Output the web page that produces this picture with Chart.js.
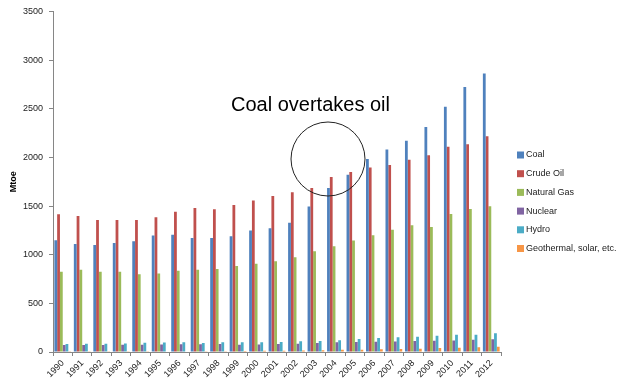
<!DOCTYPE html>
<html>
<head>
<meta charset="utf-8">
<script src="https://cdn.jsdelivr.net/npm/chart.js@4"></script>
<style>
    body { margin: 0; background: #fff; }
    #wrap { width: 622px; height: 381px; }
</style>
</head>
<body>
<div id="wrap"><canvas id="energy" width="622" height="381"></canvas></div>
<script>
// Données (Mtoe)
var years = ['1990', '1991', '1992', '1993', '1994', '1995', '1996', '1997', '1998', '1999', '2000',
    '2001', '2002', '2003', '2004', '2005', '2006', '2007', '2008', '2009', '2010', '2011', '2012'];
var coal = [1149, 1111, 1100, 1121, 1138, 1196, 1206, 1172, 1172, 1190, 1248, 1272, 1327, 1494, 1686, 1822, 1983, 2082, 2171, 2311, 2519, 2724, 2861];
var crudeOil = [1415, 1398, 1357, 1357, 1357, 1384, 1442, 1480, 1466, 1510, 1556, 1604, 1641, 1686, 1799, 1849, 1897, 1921, 1976, 2023, 2109, 2136, 2218];
var naturalGas = [824, 844, 824, 824, 800, 806, 834, 844, 854, 884, 907, 933, 974, 1036, 1087, 1145, 1200, 1255, 1303, 1285, 1418, 1470, 1497];
var nuclear = [72, 72, 72, 74, 74, 76, 80, 80, 82, 75, 78, 82, 86, 92, 99, 104, 106, 109, 113, 116, 119, 126, 132];
var hydro = [82, 84, 84, 88, 96, 98, 99, 92, 99, 99, 100, 104, 110, 114, 120, 134, 145, 152, 156, 166, 178, 178, 192];
var geothermal = [2, 2, 2, 3, 3, 5, 6, 7, 8, 10, 12, 14, 16, 18, 22, 24, 28, 31, 34, 40, 44, 48, 55];

var seriesNames = ['Coal', 'Crude Oil', 'Natural Gas', 'Nuclear', 'Hydro', 'Geothermal, solar, etc.'];
var seriesColors = ['#4F81BD', '#C0504D', '#9BBB59', '#8064A2', '#4BACC6', '#F79646'];
var yTicks = [0, 500, 1000, 1500, 2000, 2500, 3000, 3500];

var fontFamily = '"Liberation Sans", Arial, sans-serif';

// Plugin pour la légende et l'annotation du cercle
var extrasPlugin = {
    id: 'extras',
    afterDraw: function (chart) {
        var ctx = chart.ctx;
        ctx.save();

        // Légende à droite
        ctx.font = '9px ' + fontFamily;
        ctx.textBaseline = 'middle';
        ctx.textAlign = 'left';
        chart.data.datasets.forEach(function (ds, i) {
            var y = 155 + i * 18.7;
            ctx.fillStyle = ds.backgroundColor;
            ctx.fillRect(517, y - 3.5, 7, 7);
            ctx.fillStyle = '#222';
            ctx.fillText(ds.label, 526, y);
        });

        // Texte "Coal overtakes oil"
        ctx.font = '20px ' + fontFamily;
        ctx.textBaseline = 'alphabetic';
        ctx.fillStyle = '#000';
        ctx.fillText('Coal overtakes oil', 231, 111);

        // Cercle
        ctx.beginPath();
        ctx.arc(328, 159, 37, 0, Math.PI * 2);
        ctx.strokeStyle = '#222';
        ctx.lineWidth = 1;
        ctx.stroke();

        ctx.restore();
    }
};

function buildDatasets() {
    var values = [coal, crudeOil, naturalGas, nuclear, hydro, geothermal];
    return values.map(function (v, i) {
        return {
            label: seriesNames[i],
            data: v,
            backgroundColor: seriesColors[i],
            borderWidth: 0,
            barPercentage: 1,
            categoryPercentage: 0.86
        };
    });
}

function setupChart() {
    var ctx = document.getElementById('energy');
    new Chart(ctx, {
        type: 'bar',
        data: {
            labels: years,
            datasets: buildDatasets()
        },
        options: {
            responsive: false,
            animation: false,
            events: [],
            layout: { padding: { top: 11, right: 121, left: 0, bottom: 0 } },
            plugins: {
                legend: { display: false },
                tooltip: { enabled: false }
            },
            scales: {
                x: {
                    grid: {
                        drawOnChartArea: false,
                        drawTicks: true,
                        tickLength: 4,
                        color: '#868686'
                    },
                    border: { color: '#868686' },
                    ticks: {
                        autoSkip: false,
                        minRotation: 45,
                        maxRotation: 45,
                        padding: 2,
                        color: '#222',
                        font: { family: fontFamily, size: 9 }
                    },
                    afterFit: function (scale) { scale.height = 29; }
                },
                y: {
                    min: 0,
                    max: 3500,
                    afterBuildTicks: function (scale) {
                        scale.ticks = yTicks.map(function (v) { return { value: v }; });
                    },
                    grid: {
                        drawOnChartArea: false,
                        drawTicks: true,
                        tickLength: 4,
                        color: '#868686'
                    },
                    border: { color: '#868686' },
                    ticks: {
                        padding: 6,
                        color: '#222',
                        font: { family: fontFamily, size: 9 },
                        // Pas de séparateur de milliers
                        callback: function (value) { return String(value); }
                    },
                    title: {
                        display: true,
                        text: 'Mtoe',
                        color: '#000',
                        font: { family: fontFamily, size: 9, weight: 'bold' },
                        padding: { top: 8, bottom: 0 }
                    },
                    afterFit: function (scale) { scale.width = 53; }
                }
            }
        },
        plugins: [extrasPlugin]
    });
}

setupChart();
</script>
</body>
</html>
